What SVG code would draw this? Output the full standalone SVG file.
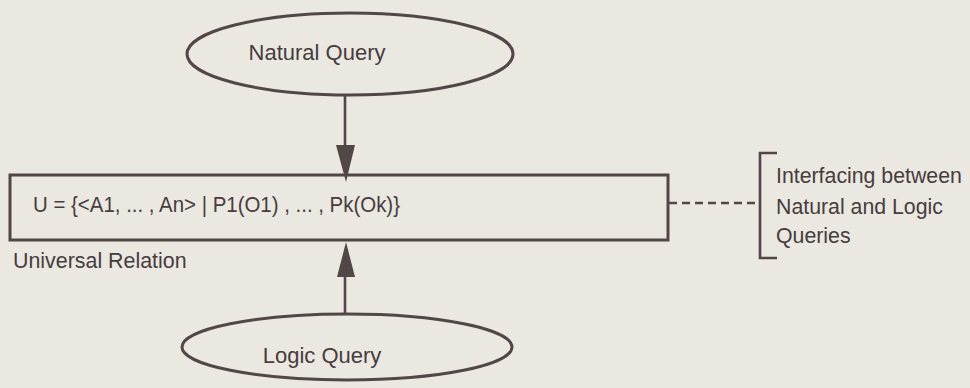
<svg xmlns="http://www.w3.org/2000/svg" width="970" height="388" viewBox="0 0 970 388">
<defs>
<style>
.bg{fill:#ebe7e1}
.shape{fill:none;stroke:#524747;stroke-width:3}
.line{stroke:#524747;stroke-width:2.6;fill:none}
.dash{stroke:#524747;stroke-width:2.6;stroke-dasharray:8 5;fill:none}
.head{fill:#524747}
.t{font-family:"Liberation Sans",Arial,sans-serif;fill:#463d3d}
</style>
</defs>
<rect class="bg" x="0" y="0" width="970" height="388"/>
<g id="natural-query">
<ellipse class="shape" cx="350" cy="54" rx="163" ry="41"/>
<text class="t" x="317" y="60" font-size="22" text-anchor="middle">Natural Query</text>
</g>
<g id="universal-relation">
<rect class="shape" x="10" y="175" width="658" height="65"/>
<text class="t" x="33" y="212" font-size="22" textLength="367" lengthAdjust="spacingAndGlyphs">U = {&lt;A1, ... , An&gt; | P1(O1) , ... , Pk(Ok)}</text>
<text class="t" x="13" y="268" font-size="21.4">Universal Relation</text>
</g>
<g id="logic-query">
<ellipse class="shape" cx="347" cy="347" rx="165" ry="33"/>
<text class="t" x="322" y="363" font-size="22" text-anchor="middle">Logic Query</text>
</g>
<g id="interface-note">
<path class="line" d="M777,153 L760,153 L760,258 L777,258"/>
<text class="t" x="776" y="183" font-size="21.3">Interfacing between</text>
<text class="t" x="776" y="214" font-size="21.3">Natural and Logic</text>
<text class="t" x="776" y="243" font-size="21.3">Queries</text>
</g>
<g id="connectors">
<line class="line" x1="345" y1="95" x2="345" y2="150"/>
<path class="head" d="M336,145 L355,145 L346,182 Z"/>
<line class="line" x1="345" y1="314" x2="345" y2="272"/>
<path class="head" d="M337,277 L355,277 L346,242 Z"/>
<line class="dash" x1="669" y1="203" x2="758" y2="203"/>
</g>
</svg>
